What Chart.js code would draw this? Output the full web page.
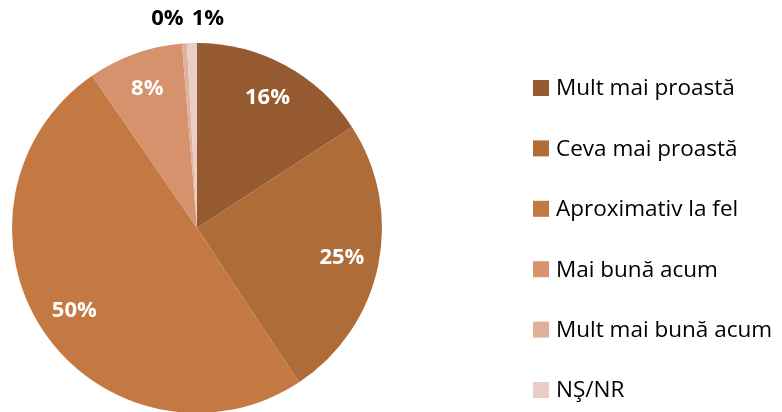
<!DOCTYPE html>
<html>
<head>
<meta charset="utf-8">
<script src="https://cdn.jsdelivr.net/npm/chart.js@4/dist/chart.umd.min.js"></script>
<style>
html,body{margin:0;padding:0;background:#fff;overflow:hidden;width:782px;height:412px;}
#wrap{position:absolute;left:0;top:0;width:782px;height:460px;}
</style>
</head>
<body>
<div id="wrap"><canvas id="c" width="782" height="460"></canvas></div>
<script>
const categories = ["Mult mai proastă", "Ceva mai proastă", "Aproximativ la fel", "Mai bună acum", "Mult mai bună acum", "NŞ/NR"];
const values = [15.8, 24.9, 49.7, 8.3, 0.43, 0.87];
const colors = ["#965A30", "#AE6C39", "#C47842", "#D6926D", "#DFB19A", "#EACDC3"];
const FONT = "'Open Sans', Lato, sans-serif";

const labelPlugin = {
  id: 'sliceLabels',
  afterDatasetsDraw(chart) {
    const ctx = chart.ctx;
    const meta = chart.getDatasetMeta(0);
    ctx.save();
    ctx.font = "bold 22px " + FONT;
    ctx.textAlign = 'center';
    ctx.textBaseline = 'middle';
    meta.data.forEach((arc, i) => {
      const v = chart.data.datasets[0].data[i];
      const txt = Math.round(v) + '%';
      const p = arc.getProps(['x','y','startAngle','endAngle','outerRadius'], true);
      const mid = (p.startAngle + p.endAngle) / 2;
      let x, y;
      if (v >= 3) {
        const r = p.outerRadius * 0.8;
        x = p.x + Math.cos(mid) * r;
        y = p.y + Math.sin(mid) * r;
        ctx.fillStyle = '#ffffff';
      } else {
        const top = p.y - p.outerRadius - 24;
        const ax = p.x + Math.cos(mid) * p.outerRadius;
        x = ax + (i === 4 ? -17 : 16);
        y = top;
        ctx.fillStyle = '#000000';
      }
      ctx.fillText(txt, x, y);
    });
    ctx.restore();
  }
};

const legendPlugin = {
  id: 'sideLegend',
  afterDraw(chart, args, opts) {
    const ctx = chart.ctx;
    const ds = chart.data.datasets[0];
    ctx.save();
    ctx.font = "22.5px " + FONT;
    ctx.textBaseline = 'middle';
    ctx.textAlign = 'left';
    chart.data.labels.forEach((lab, i) => {
      const y = opts.top + i * opts.step;
      ctx.fillStyle = ds.backgroundColor[i];
      ctx.fillRect(opts.left, y - 8, 16, 16);
      ctx.fillStyle = '#000';
      ctx.fillText(lab, opts.left + 23, y + 1);
    });
    ctx.restore();
  }
};

new Chart(document.getElementById('c'), {
  type: 'pie',
  data: {
    labels: categories,
    datasets: [{
      data: values,
      backgroundColor: colors,
      borderWidth: 0
    }]
  },
  options: {
    responsive: false,
    animation: false,
    layout: { padding: { left: 12, top: 43, right: 400, bottom: 47 } },
    plugins: {
      legend: { display: false },
      tooltip: { enabled: false },
      sideLegend: { left: 533, top: 88, step: 60.4 }
    }
  },
  plugins: [labelPlugin, legendPlugin]
});
</script>
</body>
</html>
